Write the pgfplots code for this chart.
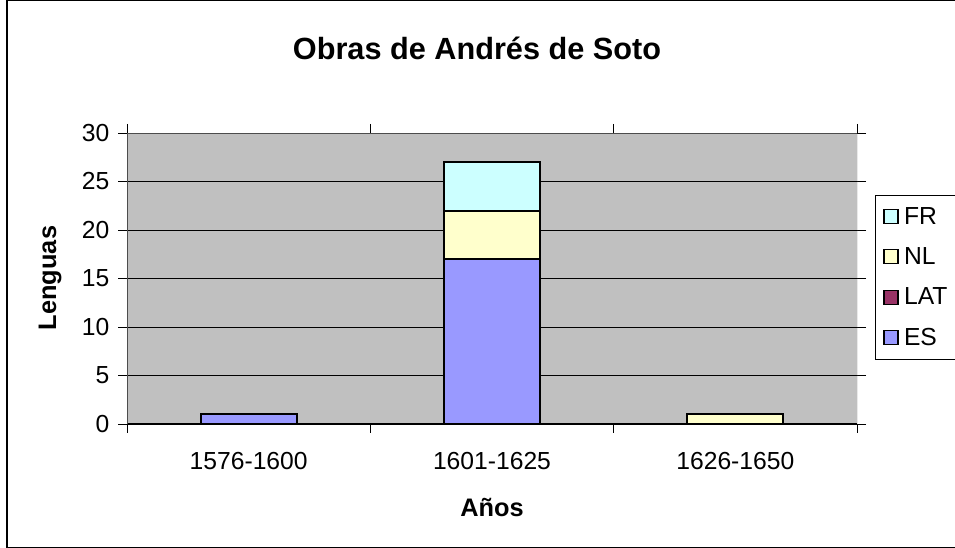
\documentclass[border=0pt]{standalone}
\usepackage{pgfplots}
\pgfplotsset{compat=1.18}
\usepackage{fontspec}
\setmainfont{Liberation Sans}
\definecolor{cES}{HTML}{9999FF}
\definecolor{cLAT}{HTML}{993366}
\definecolor{cNL}{HTML}{FFFFCC}
\definecolor{cFR}{HTML}{CCFFFF}
\definecolor{plotbg}{HTML}{C0C0C0}
\begin{document}
\begin{tikzpicture}
\begin{axis}[
  at={(95.25pt,93pt)}, anchor=south west,
  scale only axis, width=547.5pt, height=218.25pt,
  ybar stacked, bar width=0.395,
  xmin=-0.5, xmax=2.5, ymin=0, ymax=30,
  xtick={0,1,2}, xticklabels={1576-1600,1601-1625,1626-1650},
  minor xtick={-0.5,0.5,1.5,2.5},
  major x tick style={draw=none},
  minor x tick style={black, line width=0.6pt},
  ytick={0,5,...,30},
  tick align=outside,
  major tick length=6.75pt, minor tick length=6.75pt,
  ymajorgrids, grid style={black, line width=0.6pt},
  axis background/.style={fill=plotbg},
  axis line style={draw=none},
  ytick style={black, line width=0.6pt},
  /pgf/number format/assume math mode=true,
  tick label style={font=\fontsize{18.5}{21}\selectfont},
  xticklabel style={anchor=center, yshift=-21pt},
  yticklabel style={xshift=-3pt},
  reverse legend,
  legend style={at={(1.0247,0.787)}, anchor=north west, draw=black, line width=0.6pt,
    font=\fontsize{18.5}{21}\selectfont, row sep=12pt, inner xsep=6pt, inner ysep=7pt,
    legend cell align=left, fill=white},
  legend image code/.code={\draw[#1, draw=black, line width=0.9pt] (0pt,-5pt) rectangle (10.5pt,5.5pt); \path[draw=none, fill=none] (0pt,0pt) -- (13pt,0pt);},
  every axis plot/.append style={draw=black, line width=1.5pt},
]
\addplot[fill=cES] coordinates {(0,1) (1,17) (2,0)};
\addplot[fill=cLAT] coordinates {(0,0) (1,0) (2,0)};
\addplot[fill=cNL] coordinates {(0,0) (1,5) (2,1)};
\addplot[fill=cFR] coordinates {(0,0) (1,5) (2,0)};
\legend{ES,LAT,NL,FR}
\draw[gray!60!black, line width=0.6pt] (rel axis cs:0,0) rectangle (rel axis cs:1,1);
\draw[black, line width=0.8pt] (rel axis cs:0,0) -- (rel axis cs:1,0);
\draw[black, line width=0.8pt] (rel axis cs:0,0) -- (rel axis cs:0,1);
\end{axis}
\node[font=\fontsize{23}{27}\selectfont\bfseries] at (357.75pt,374.5pt) {Obras de Andrés de Soto};
\node[font=\fontsize{19}{22}\selectfont\bfseries, rotate=90] at (37.5pt,202.5pt) {Lenguas};
\node[font=\fontsize{19}{22}\selectfont\bfseries] at (369pt,30.75pt) {Años};
\draw[black, line width=0.8pt] (5.25pt,0.5pt) rectangle (730pt,410.5pt);
\pgfresetboundingbox
\useasboundingbox (0,0) rectangle (716.25pt,411pt);
\end{tikzpicture}
\end{document}
